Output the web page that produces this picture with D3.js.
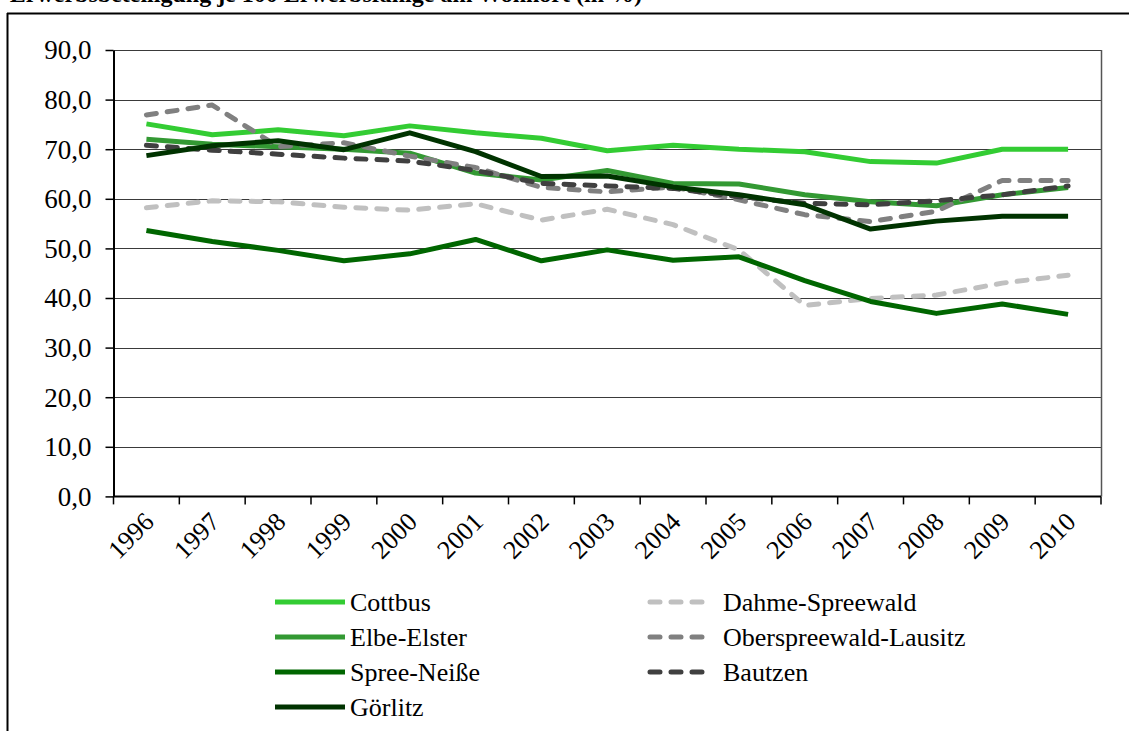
<!DOCTYPE html>
<html>
<head>
<meta charset="utf-8">
<script src="https://cdn.jsdelivr.net/npm/d3@7"></script>
<style>
  html, body { margin: 0; padding: 0; background: #fff; }
  svg { display: block; }
  svg text { font-family: "Liberation Serif", "Times New Roman", serif !important; }
</style>
</head>
<body>
<svg id="chart" width="1129" height="731"></svg>
<script>
const years = ["1996","1997","1998","1999","2000","2001","2002","2003","2004","2005","2006","2007","2008","2009","2010"];
const yTicks = [0,10,20,30,40,50,60,70,80,90];

const cottbus        = [75.1,72.9,73.9,72.7,74.7,73.3,72.2,69.7,70.8,70.0,69.5,67.5,67.2,70.0,70.0];
const elbeElster     = [72.0,71.0,70.5,70.0,69.2,65.2,63.8,65.7,63.1,63.0,60.8,59.4,58.6,60.8,62.3];
const spreeNeisse    = [53.6,51.4,49.6,47.5,48.9,51.8,47.5,49.7,47.6,48.3,43.5,39.3,36.9,38.8,36.7];
const goerlitz       = [68.7,70.7,71.7,69.9,73.3,69.5,64.5,64.6,62.4,60.8,58.8,53.9,55.5,56.5,56.5];
const dahmeSpreewald = [58.2,59.6,59.4,58.3,57.7,59.0,55.7,57.9,54.8,49.7,38.5,39.9,40.6,43.0,44.6];
const osl            = [76.9,78.9,70.5,71.3,68.6,66.3,62.3,61.4,62.4,59.8,56.8,55.4,57.5,63.7,63.7];
const bautzen        = [70.8,69.8,69.0,68.2,67.6,65.7,63.1,62.6,62.1,60.4,59.1,58.8,59.6,60.8,62.6];

const seriesNames = ["Cottbus","Dahme-Spreewald","Elbe-Elster","Oberspreewald-Lausitz","Spree-Neiße","Bautzen","Görlitz"];
const seriesValues = [cottbus, dahmeSpreewald, elbeElster, osl, spreeNeisse, bautzen, goerlitz];
const seriesColors = ["#33cc33","#c0c0c0","#339933","#808080","#006600","#404040","#003300"];
const seriesDashed = [false,true,false,true,false,true,false];

const FONT = '"Liberation Serif", "Times New Roman", serif';
const svg = d3.select("#chart");

// outer frame and cut-off title (as in the reference, only its lower part is visible)
svg.append("text")
  .attr("x", 642).attr("y", 2)
  .attr("text-anchor", "end")
  .attr("font-size", 24).attr("font-weight", "bold")
  .style("font-family", FONT)
  .text("Erwerbsbeteiligung je 100 Erwerbsfähige am Wohnort (in %)");
svg.append("line").attr("x1", 7).attr("x2", 1129).attr("y1", 13.5).attr("y2", 13.5)
  .attr("stroke", "#000").attr("stroke-width", 2);
svg.append("line").attr("x1", 7.5).attr("x2", 7.5).attr("y1", 13).attr("y2", 731)
  .attr("stroke", "#000").attr("stroke-width", 2);

const pLeft = 113.5, pRight = 1101, pTop = 50, pBottom = 496.4;
const x = d3.scaleBand().domain(years).range([pLeft, pRight]).padding(0);
const y = d3.scaleLinear().domain([0, 90]).range([pBottom, pTop]);

// gridlines
svg.append("g").selectAll("line").data(yTicks.filter(d => d > 0)).join("line")
  .attr("x1", pLeft).attr("x2", pRight)
  .attr("y1", d => Math.round(y(d)) + 0.5).attr("y2", d => Math.round(y(d)) + 0.5)
  .attr("stroke", "#3a3a3a").attr("stroke-width", 1);
// right border of plot area
svg.append("line").attr("x1", pRight + 0.5).attr("x2", pRight + 0.5)
  .attr("y1", y(90)).attr("y2", pBottom)
  .attr("stroke", "#555").attr("stroke-width", 1.5);

// y axis
const yAxis = d3.axisLeft(y).tickValues(yTicks).tickSize(8).tickSizeOuter(0)
  .tickFormat(d => d.toFixed(1).replace(".", ","));
const gy = svg.append("g").attr("transform", `translate(${pLeft},0)`).call(yAxis)
  .attr("font-family", null).attr("font-size", null);
gy.select(".domain").attr("stroke", "#000").attr("stroke-width", 2);
gy.selectAll(".tick line").attr("stroke", "#000").attr("stroke-width", 1.5);
gy.selectAll(".tick text").attr("font-size", 27).attr("fill", "#000")
  .attr("x", -22).attr("dy", "0.33em")
  .style("font-family", FONT);

// x axis: ticks at band boundaries, labels at centres
const boundaries = years.map(d => x(d)).concat([x.range()[1]]);
const gx = svg.append("g");
gx.append("line").attr("x1", pLeft).attr("x2", pRight).attr("y1", pBottom).attr("y2", pBottom)
  .attr("stroke", "#000").attr("stroke-width", 2);
gx.selectAll("line.tk").data(boundaries).join("line").attr("class", "tk")
  .attr("x1", d => d).attr("x2", d => d).attr("y1", pBottom).attr("y2", pBottom + 8)
  .attr("stroke", "#000").attr("stroke-width", 1.5);
gx.selectAll("text").data(years).join("text")
  .attr("transform", d => `translate(${x(d) + x.bandwidth() / 2 + 9},${pBottom + 27}) rotate(-45)`)
  .attr("text-anchor", "end")
  .attr("font-size", 26)
  .style("font-family", FONT)
  .text(d => d);

// lines
const line = d3.line()
  .x((d, i) => x(years[i]) + x.bandwidth() / 2)
  .y(d => y(d));
seriesValues.forEach((vals, k) => {
  svg.append("path")
    .datum(vals)
    .attr("d", line)
    .attr("fill", "none")
    .attr("stroke", seriesColors[k])
    .attr("stroke-width", 5)
    .attr("stroke-linejoin", "round")
    .attr("stroke-linecap", seriesDashed[k] ? "round" : "butt")
    .attr("stroke-dasharray", seriesDashed[k] ? "10,11" : null);
});

// legend (two columns, row-wise order)
const legendOrder = ["Cottbus","Elbe-Elster","Spree-Neiße","Görlitz","Dahme-Spreewald","Oberspreewald-Lausitz","Bautzen"];
const legendPos = [
  [275, 602],[275, 637],[275, 672],[275, 707],
  [647, 602],[647, 637],[647, 672]
];
legendOrder.forEach((name, j) => {
  const k = seriesNames.indexOf(name);
  const [lx, ly] = legendPos[j];
  const dashed = seriesDashed[k];
  const g = svg.append("g");
  g.append("line")
    .attr("x1", lx + (dashed ? 3 : 0)).attr("x2", lx + (dashed ? 60 : 70))
    .attr("y1", ly).attr("y2", ly)
    .attr("stroke", seriesColors[k]).attr("stroke-width", 5)
    .attr("stroke-linecap", dashed ? "round" : "butt")
    .attr("stroke-dasharray", dashed ? "10,11" : null);
  g.append("text")
    .attr("x", dashed ? lx + 76 : lx + 75).attr("y", ly).attr("dy", "0.33em")
    .attr("font-size", 26)
    .style("font-family", FONT)
    .text(name);
});
</script>
</body>
</html>
